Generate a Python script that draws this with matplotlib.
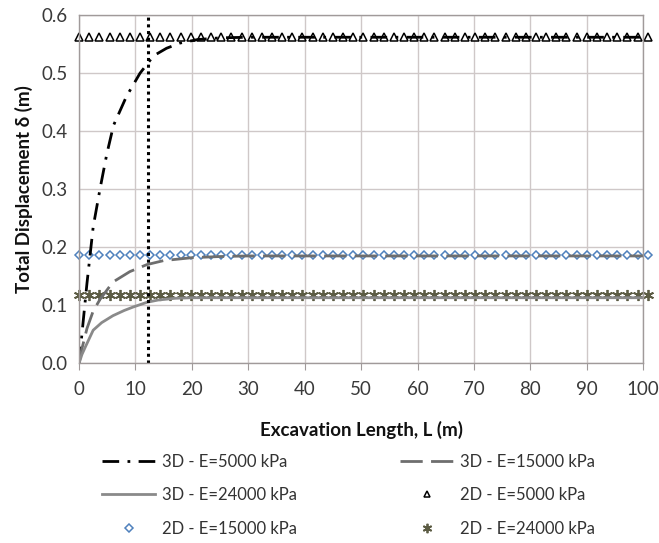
import matplotlib
matplotlib.use("Agg")
import matplotlib.pyplot as plt
import numpy as np

plt.rcParams['font.family'] = ['Lato', 'DejaVu Sans']

# 3D curves
L_3d_5000 = [0, 0.5, 1.4, 2.5, 3.7, 4.9, 6.1, 8.4, 10.8, 13.2, 15.5, 17.9, 21, 25, 30, 40, 50, 60, 70, 80, 90, 100]
d_3d_5000 = [0.0, 0.05, 0.138, 0.235, 0.30, 0.36, 0.41, 0.46, 0.50, 0.53, 0.543, 0.552, 0.558, 0.561, 0.562, 0.562, 0.562, 0.562, 0.562, 0.562, 0.562, 0.562]

L_3d_15000 = [0, 0.5, 1.4, 2.5, 3.7, 6, 9, 12, 15, 20, 25, 30, 40, 50, 60, 70, 80, 90, 100]
d_3d_15000 = [0.0, 0.025, 0.06, 0.09, 0.11, 0.14, 0.158, 0.17, 0.177, 0.182, 0.184, 0.185, 0.185, 0.185, 0.185, 0.185, 0.185, 0.185, 0.185]

L_3d_24000 = [0, 0.5, 1.2, 2.5, 4, 6, 8, 9.6, 12, 14, 17, 20, 30, 40, 50, 60, 70, 80, 90, 100]
d_3d_24000 = [0.0, 0.015, 0.03, 0.057, 0.07, 0.082, 0.091, 0.097, 0.105, 0.109, 0.112, 0.113, 0.113, 0.113, 0.113, 0.113, 0.113, 0.113, 0.113, 0.113]

# 2D results (constant)
L_2d = np.arange(0, 101, 1.8)
d_2d_5000 = 0.562
d_2d_15000 = 0.186
d_2d_24000 = 0.117

vline_L = 12.2

xticks = list(range(0, 101, 10))
yticks = [0.0, 0.1, 0.2, 0.3, 0.4, 0.5, 0.6]

fig = plt.figure(figsize=(6.59, 5.43), dpi=100)
ax = fig.add_axes([0.120, 0.331, 0.856, 0.641])

grid_c = '#cfc8c8'
ax.set_xlim(0, 100)
ax.set_ylim(0, 0.6)
ax.set_xticks(xticks)
ax.set_yticks(yticks)
ax.set_yticklabels([f"{v:.1f}" for v in yticks])
ax.grid(True, color=grid_c, linewidth=1.0)
ax.set_axisbelow(True)
for s in ax.spines.values():
    s.set_color('#a09a9a')
    s.set_linewidth(1.0)
ax.tick_params(axis='both', colors='#a09a9a', labelcolor='#3a3a3a', labelsize=13.5, length=5, direction='out')
ax.tick_params(axis='y', length=0, pad=8)
ax.tick_params(axis='x', pad=8)

ax.set_xlabel('Excavation Length, L (m)', fontsize=13.5, fontweight='bold', labelpad=16, color='#111111')
ax.set_ylabel('Total Displacement δ (m)', fontsize=13.5, fontweight='bold', labelpad=6, color='#111111')

n = len(L_2d)
h_t, = ax.plot(L_2d, [d_2d_5000] * n, linestyle='none', marker='^', markersize=5.5,
               markerfacecolor='white', markeredgecolor='black', markeredgewidth=1.1, clip_on=False)
h_d, = ax.plot(L_2d, [d_2d_15000] * n, linestyle='none', marker='D', markersize=4.5,
               markerfacecolor='white', markeredgecolor='#4f81bd', markeredgewidth=1.1, clip_on=False)
h_s, = ax.plot(L_2d, [d_2d_24000] * n, linestyle='none', marker=(6, 2, 0), markersize=8,
               markeredgecolor='#5c5c44', markeredgewidth=1.3, clip_on=False)

h1, = ax.plot(L_3d_5000, d_3d_5000, color='black', linewidth=2, linestyle=(0, (6, 3, 1, 3)))
h2, = ax.plot(L_3d_15000, d_3d_15000, color='#6e6e6e', linewidth=2, linestyle=(0, (8, 3)))
h3, = ax.plot(L_3d_24000, d_3d_24000, color='#8a8a8a', linewidth=2, linestyle='-')

ax.axvline(vline_L, color='black', linewidth=2.2, linestyle=(0, (1, 1.2)))

handles = [h1, h3, h_d, h2, h_t, h_s]
labels = ['3D - E=5000 kPa', '3D - E=24000 kPa', '2D - E=15000 kPa',
          '3D - E=15000 kPa', '2D - E=5000 kPa', '2D - E=24000 kPa']
leg = fig.legend(handles, labels, ncol=2, loc='center', bbox_to_anchor=(0.529, 0.088),
                 frameon=False, fontsize=12, handlelength=3.2, columnspacing=6.2,
                 labelspacing=1.05, handletextpad=0.4, markerscale=0.85)
for t in leg.get_texts():
    t.set_color('#333333')

fig.savefig('out.png', dpi=100)
